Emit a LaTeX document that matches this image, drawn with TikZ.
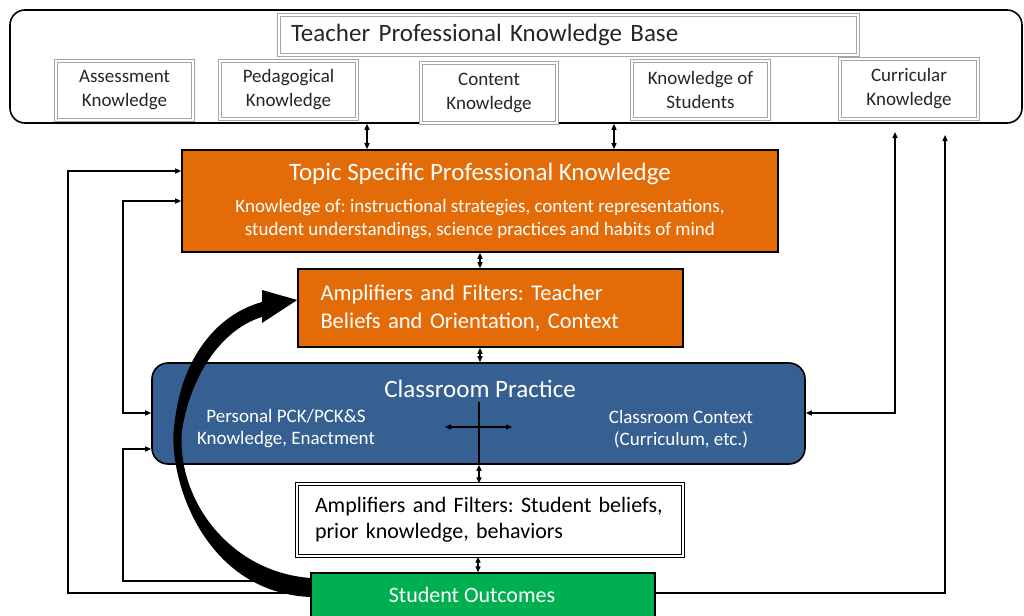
\documentclass[tikz,border=0pt]{standalone}
\usepackage{fontspec}
\setmainfont{Carlito}
\usetikzlibrary{arrows.meta}
\definecolor{orng}{HTML}{E36C09}
\definecolor{blu}{HTML}{376092}
\definecolor{grn}{HTML}{00B050}
\newcommand{\fs}[2]{\fontsize{#1}{#2}\selectfont}
\frenchspacing
\tikzset{
  basebox/.style={draw=black, line width=1.6pt, rounded corners=15pt, fill=white, inner sep=0pt},
  graybox/.style={draw=black!35, double=white, double distance=1.3pt, line width=1pt, inner sep=0pt, align=center, font=\fs{19}{24}, text=black!85},
  orbox/.style={draw=black, line width=1.6pt, fill=orng, inner sep=0pt, text=white},
  cpbox/.style={draw=black, line width=1.6pt, fill=blu, rounded corners=16pt, inner sep=0pt},
  sbbox/.style={draw=black, line width=1.4pt, double=white, double distance=1.2pt, inner sep=0pt, fill=white},
  sobox/.style={draw=black, line width=1.4pt, fill=grn, inner sep=0pt},
  tip/.style={-{Triangle[length=6pt,width=5pt]}},
  dtip/.style={{Triangle[length=6pt,width=5pt]}-{Triangle[length=6pt,width=5pt]}},
  conn/.style={line width=1.3pt},
}
\begin{document}
\begin{tikzpicture}[x=1pt,y=-1pt]
\path[use as bounding box, clip] (0,0) rectangle (1024,615);
% base
\node[basebox, minimum width=1012pt, minimum height=113pt] (base) at (516,66.5) {};
\node[graybox, minimum width=579pt, minimum height=40pt, text width=555pt, align=left, font=\fs{25}{30}] (title) at (568.5,35) {Teacher Professional Knowledge Base};
\node[graybox, minimum width=137pt, minimum height=59pt] (ak) at (124.5,90.5) {Assessment\\Knowledge};
\node[graybox, minimum width=137pt, minimum height=58pt] (pk) at (288.5,90) {Pedagogical\\Knowledge};
\node[graybox, minimum width=136pt, minimum height=60pt] (ck) at (489,93) {Content\\Knowledge};
\node[graybox, minimum width=137pt, minimum height=58pt] (ks) at (700.5,90) {Knowledge of\\Students};
\node[graybox, minimum width=138pt, minimum height=60pt] (cu) at (909,89) {Curricular\\Knowledge};
% main boxes
\node[orbox, minimum width=596pt, minimum height=102pt, align=center, font=\fs{19}{23}] (tspk) at (480,201)
  {{\fs{25}{30}Topic Specific Professional Knowledge}\\[9pt]Knowledge of: instructional strategies, content representations,\\student understandings, science practices and habits of mind};
\node[orbox, minimum width=385pt, minimum height=78pt, text width=340pt, align=left, font=\fs{22.5}{28}] (amp) at (490.5,308)
  {Amplifiers and Filters: Teacher\\Beliefs and Orientation, Context};
\node[cpbox, minimum width=653pt, minimum height=101pt] (cp) at (478.5,413.5) {};
\node[text=white, font=\fs{25}{30}] (cpt) at (480,389) {Classroom Practice};
\node[text=white, font=\fs{19}{22}, align=center] (cpl) at (286,429) {Personal PCK/PCK\&S\\Knowledge, Enactment};
\node[text=white, font=\fs{19}{22}, align=center] (cpr) at (681,429) {Classroom Context\\(Curriculum, etc.)};
\node[sbbox, minimum width=386pt, minimum height=72pt, text width=350pt, align=left, font=\fs{22}{26}] (sb) at (490,520)
  {Amplifiers and Filters: Student beliefs,\\prior knowledge, behaviors};
\node[sobox, minimum width=344pt, minimum height=52pt] (so) at (483,599) {};
\node[text=white, font=\fs{22}{26}] (sot) at (472,595) {Student Outcomes};
% vertical links
\draw[conn, dtip] (base.south -| 367,0) -- (tspk.north -| 367,0);
\draw[conn, dtip] (base.south -| 614,0) -- (tspk.north -| 614,0);
\draw[conn, dtip] (tspk.south -| 480,0) -- (amp.north -| 480,0);
\draw[conn, dtip] (amp.south -| 480,0) -- (cp.north -| 480,0);
\draw[conn, dtip] (cp.south -| 479,0) -- (sb.north -| 479,0);
\draw[conn, dtip] (sb.south -| 478,0) -- (so.north -| 478,0);
% cross in classroom practice
\coordinate (cx) at (479,402);
\draw[conn] (cx) -- (cp.south -| cx);
\coordinate (hl) at (445,427);
\coordinate (hr) at (512,427);
\draw[conn, dtip] (hl) -- (hr);
% feedback lines
\draw[conn, tip] (so.west |- 0,593) -| (68,171) -- (tspk.west |- 0,171);
\draw[conn, tip] (so.west |- 0,581) -| (123,449) -- (cp.west |- 0,449);
\draw[conn, dtip] (tspk.west |- 0,201) -| (123,413) -- (cp.west |- 0,413);
\coordinate (cut) at (895,132);
\draw[conn, dtip] (cut) |- (cp.east |- 0,413);
\coordinate (rt) at (945,135);
\draw[conn, tip] (so.east |- 0,593) -| (rt);
% big curved arrow (filled, tapering)
\fill[black] (so.west |- 0,597) .. controls (200,592) and (165,470) .. (175,420)
  .. controls (182,360) and (215,315) .. (262,302) -- (262,290) -- (amp.west |- 0,300)
  -- (262,323) -- (262,317) .. controls (225,328) and (192,370) .. (182,430)
  .. controls (176,500) and (230,572) .. (so.west |- 0,578) -- cycle;
\end{tikzpicture}
\end{document}
